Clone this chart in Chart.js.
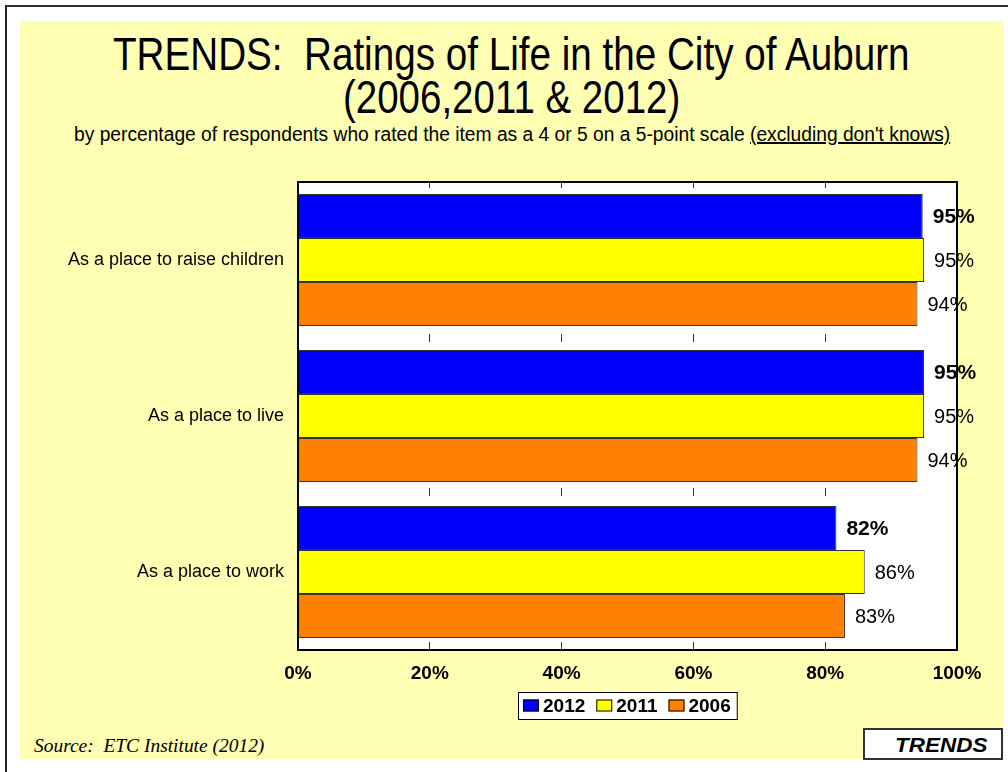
<!DOCTYPE html>
<html><head><meta charset="utf-8">
<script src="https://cdn.jsdelivr.net/npm/chart.js@4"></script>
<style>
html,body{margin:0;padding:0;background:#fff;}
#page{position:relative;width:1008px;height:772px;overflow:hidden;background:#fff;font-family:'Liberation Sans',Arial,sans-serif;color:#000;}
#topline{position:absolute;left:5px;top:5px;width:1003px;height:2px;background:#333;}
#leftline{position:absolute;left:5px;top:5px;width:2px;height:767px;background:#222;}
#panel{position:absolute;left:20px;top:21px;width:984px;height:738px;background:#FFFFB4;}
.t{position:absolute;white-space:nowrap;transform-origin:50% 50%;}
#t1{font-size:46px;line-height:46px;top:31px;}
#t2{font-size:46px;line-height:46px;top:74px;}
#sub{font-size:20px;line-height:20px;top:124px;}
#sub span{text-decoration:underline;}
#src{font-family:'Liberation Serif','Times New Roman',serif;font-style:italic;font-size:18px;line-height:18px;top:737px;transform-origin:0 50%;}
#tbox{position:absolute;left:863px;top:728px;width:136px;height:28px;background:#fff;border:2px solid #333;}
#ttxt{font-weight:bold;font-style:italic;font-size:21px;line-height:21px;top:734px;transform-origin:0 50%;}
canvas{position:absolute;left:0;top:0;}
</style>
</head>
<body>
<div id="page">
  <div id="topline"></div>
  <div id="leftline"></div>
  <div id="panel"></div>
  <div class="t" id="t1">TRENDS:&nbsp; Ratings of Life in the City of Auburn</div>
  <div class="t" id="t2">(2006,2011 &amp; 2012)</div>
  <div class="t" id="sub">by percentage of respondents who rated the item as a 4 or 5 on a 5-point scale <span>(excluding don't knows)</span></div>
  <div class="t" id="src">Source:&nbsp; ETC Institute (2012)</div>
  <div id="tbox"></div>
  <div class="t" id="ttxt">TRENDS</div>
  <canvas id="c" width="1008" height="772"></canvas>
</div>
<script>
// ---- data ----
const categories = ['As a place to raise children', 'As a place to live', 'As a place to work'];
const seriesLabels = ['2012', '2011', '2006'];
const values2012 = [94.8, 95.0, 81.7];
const values2011 = [95.0, 95.0, 86.0];
const values2006 = [94.0, 94.0, 83.0];
const xTickValues = [0, 20, 40, 60, 80, 100];
const seriesColors = ['#0000FF', '#FFFF00', '#FF8000'];

// ---- text fitting ----
function fitCenter(id, cx, target) {
  const el = document.getElementById(id);
  const w = el.offsetWidth;
  el.style.left = (cx - w / 2) + 'px';
  el.style.transform = 'scaleX(' + (target / w) + ')';
}
function fitLeft(id, left, target) {
  const el = document.getElementById(id);
  const w = el.offsetWidth;
  el.style.left = left + 'px';
  el.style.transform = 'scaleX(' + (target / w) + ')';
}
fitCenter('t1', 511.5, 797);
fitCenter('t2', 511.5, 337);
fitCenter('sub', 512, 876);
fitLeft('src', 34, 230);
fitLeft('ttxt', 895, 92);

const FONT = "'Liberation Sans', Arial, sans-serif";

const areaPlugin = {
  id: 'area',
  beforeDraw(chart) {
    const a = chart.chartArea, ctx = chart.ctx;
    ctx.save();
    ctx.fillStyle = '#fff';
    ctx.fillRect(a.left, a.top, a.right - a.left, a.bottom - a.top);
    ctx.restore();
  },
  afterDatasetsDraw(chart) {
    const a = chart.chartArea, ctx = chart.ctx;
    ctx.save();
    ctx.strokeStyle = '#000';
    ctx.lineWidth = 2;
    ctx.strokeRect(a.left, a.top, a.right - a.left, a.bottom - a.top);
    // data labels
    ctx.fillStyle = '#000';
    ctx.textBaseline = 'middle';
    ctx.textAlign = 'left';
    chart.data.datasets.forEach((ds, i) => {
      const meta = chart.getDatasetMeta(i);
      ctx.font = (i === 0 ? 'bold 21px ' : '20px ') + FONT;
      meta.data.forEach((bar, j) => {
        ctx.fillText(Math.round(ds.data[j]) + '%', bar.x + 10, bar.y + 1);
      });
    });
    ctx.restore();
  },
  afterDraw(chart) {
    // legend
    const ctx = chart.ctx, a = chart.chartArea;
    ctx.save();
    ctx.font = 'bold 19px ' + FONT;
    const sq = 16, gapTxt = 4, gapItem = 11, padL = 5, padR = 6;
    const widths = chart.data.datasets.map(d => ctx.measureText(d.label).width);
    let total = padL + padR + gapItem * (widths.length - 1);
    widths.forEach(w => total += sq + gapTxt + w);
    const cx = (a.left + a.right) / 2;
    const left = Math.round(cx - total / 2);
    const top = 692, h = 27;
    ctx.fillStyle = '#fff';
    ctx.fillRect(left, top, total, h);
    ctx.strokeStyle = '#000';
    ctx.lineWidth = 1;
    ctx.strokeRect(left + 0.5, top + 0.5, total, h);
    let x = left + padL;
    const cy = top + h / 2;
    chart.data.datasets.forEach((d, i) => {
      ctx.fillStyle = d.backgroundColor;
      ctx.fillRect(x, cy - 6, sq, 12);
      ctx.strokeStyle = '#000';
      ctx.strokeRect(x + 0.5, cy - 6 + 0.5, sq - 1, 11);
      x += sq + gapTxt;
      ctx.fillStyle = '#000';
      ctx.textBaseline = 'middle';
      ctx.textAlign = 'left';
      ctx.fillText(d.label, x, cy + 1);
      x += widths[i] + gapItem;
    });
    ctx.restore();
  }
};

new Chart(document.getElementById('c'), {
  type: 'bar',
  data: {
    labels: categories,
    datasets: [
      { label: seriesLabels[0], data: values2012, backgroundColor: seriesColors[0] },
      { label: seriesLabels[1], data: values2011, backgroundColor: seriesColors[1] },
      { label: seriesLabels[2], data: values2006, backgroundColor: seriesColors[2] }
    ].map(d => Object.assign(d, {
      borderColor: '#333', borderWidth: 1, borderSkipped: 'start',
      barPercentage: 1.0, categoryPercentage: 132 / 156
    }))
  },
  options: {
    indexAxis: 'y',
    responsive: false,
    devicePixelRatio: 1,
    animation: false,
    layout: { padding: { left: 0, right: 51, top: 182, bottom: 82 } },
    plugins: { legend: { display: false }, title: { display: false }, tooltip: { enabled: false } },
    scales: {
      x: {
        min: 0, max: 100,
        afterBuildTicks(scale) { scale.ticks = xTickValues.map(v => ({ value: v })); },
        afterFit(scale) { scale.height = 40; },
        ticks: {
          callback: v => v + '%',
          color: '#000',
          font: { family: FONT, size: 19, weight: 'bold' },
          padding: 12,
          maxRotation: 0
        },
        grid: { color: '#333', lineWidth: 1, drawTicks: false },
        border: { display: false, dash: [8, 146], dashOffset: 2 }
      },
      y: {
        afterFit(scale) { scale.width = 298; },
        ticks: {
          color: '#000',
          font: { family: FONT, size: 18 },
          padding: 14
        },
        grid: { display: false, drawTicks: false },
        border: { display: false }
      }
    }
  },
  plugins: [areaPlugin]
});
</script>
</body></html>
